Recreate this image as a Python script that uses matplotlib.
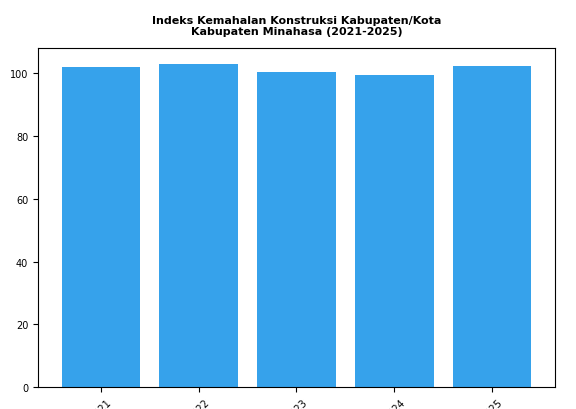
import matplotlib
matplotlib.use("Agg")
import matplotlib.pyplot as plt

# data
years = ["2021", "2022", "2023", "2024", "2025"]
ikk = [102.2, 102.9, 100.3, 99.4, 102.5]

fig = plt.figure(figsize=(5.76, 4.10), dpi=100)
ax = fig.add_axes([0.066, 0.0537, 0.8975, 0.8263])

ax.bar(years, ikk, width=0.8, color="#36A2EB")
ax.set_title("Indeks Kemahalan Konstruksi Kabupaten/Kota\nKabupaten Minahasa (2021-2025)",
             fontsize=8, fontweight="bold", pad=10)
ax.tick_params(axis="both", labelsize=7)
plt.setp(ax.get_xticklabels(), rotation=45)

fig.savefig("out.png", dpi=100)
